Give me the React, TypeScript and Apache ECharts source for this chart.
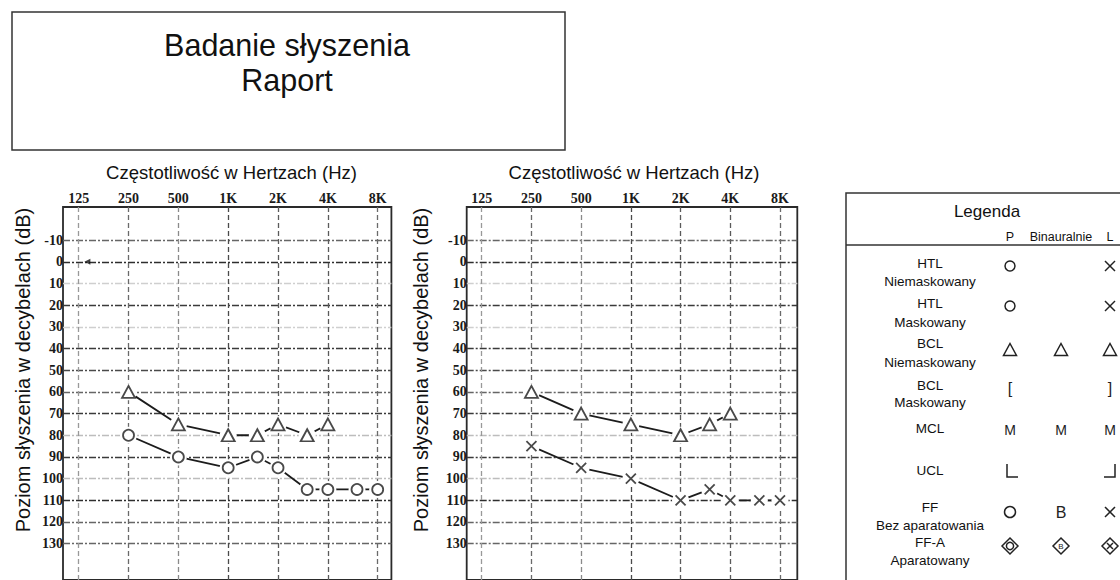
import React, { useEffect, useRef } from "react";
import * as echarts from "echarts";

// ---------- data ----------
const freqTicksHz = [125, 250, 500, 1000, 2000, 4000, 8000];
const freqTickLabels = ["125", "250", "500", "1K", "2K", "4K", "8K"];
const dbTicks = [-10, 0, 10, 20, 30, 40, 50, 60, 70, 80, 90, 100, 110, 120, 130];

// right ear (P) – left audiogram
const rightBoneHz = [250, 500, 1000, 1500, 2000, 3000, 4000];
const rightBoneDb = [60, 75, 80, 80, 75, 80, 75];
const rightAirHz = [250, 500, 1000, 1500, 2000, 3000, 4000, 6000, 8000];
const rightAirDb = [80, 90, 95, 90, 95, 105, 105, 105, 105];
// left ear (L) – right audiogram
const leftBoneHz = [250, 500, 1000, 2000, 3000, 4000];
const leftBoneDb = [60, 70, 75, 80, 75, 70];
const leftAirHz = [250, 500, 1000, 2000, 3000, 4000, 6000, 8000];
const leftAirDb = [85, 95, 100, 110, 105, 110, 110, 110];
// small reference arrow on the left audiogram
const refMarkHz = [141];
const refMarkDb = [0];

// ---------- texts ----------
const titleLines = ["Badanie słyszenia", "Raport"];
const xAxisTitle = "Częstotliwość w Hertzach (Hz)";
const yAxisTitle = "Poziom słyszenia w decybelach (dB)";
const legendTitle = "Legenda";
const legendColumns = ["P", "Binauralnie", "L"];
const legendRowNames = ["HTL", "HTL", "BCL", "BCL", "MCL", "UCL", "FF", "FF-A"];
const legendRowSubs = ["Niemaskowany", "Maskowany", "Niemaskowany", "Maskowany", "", "", "Bez aparatowania", "Aparatowany"];
const legendSymP = ["circle", "circle", "triangle", "[", "M", "ucl", "bigcircle", "diamondO"];
const legendSymB = ["", "", "triangle", "", "M", "", "B", "diamondB"];
const legendSymL = ["x", "x", "triangle", "]", "M", "uclR", "x", "diamondX"];

// ---------- styles ----------
const INK = "#1c1c1c";
const SANS = "Liberation Sans, Arial, sans-serif";
const SERIF = "Liberation Serif, Times New Roman, serif";
const hLineColors = ["#666", "#2e2e2e", "#cfcfcf", "#3a3a3a", "#cfcfcf", "#3a3a3a", "#4a4a4a", "#666", "#3a3a3a", "#bdbdbd", "#3a3a3a", "#bdbdbd", "#2e2e2e", "#666", "#666"];
const vLineColors = ["#999", "#6a6a6a", "#8a8a8a", "#4a4a4a", "#5a5a5a", "#5a5a5a", "#6a6a6a"];

const oct = (hz: number) => Math.log2(hz / 125);
const pts = (hz: number[], db: number[]) => hz.map((h, i) => [oct(h), db[i]]);

function buildAxes(g: number, xmin: number, xmax: number) {
  const xTicks = freqTicksHz.map(oct);
  const xAxis = {
    type: "value",
    gridIndex: g,
    position: "top",
    min: xmin,
    max: xmax,
    axisLine: { show: false },
    axisTick: { show: false, customValues: xTicks },
    splitLine: {
      show: true,
      lineStyle: { color: vLineColors, width: 1.3, type: [5, 3] },
    },
    axisLabel: {
      customValues: xTicks,
      margin: 2,
      fontFamily: SERIF,
      fontSize: 14,
      fontWeight: "bold",
      color: "#1a1a1a",
      formatter: (v: number) => {
        const i = xTicks.findIndex((t) => Math.abs(t - v) < 1e-6);
        return i >= 0 ? freqTickLabels[i] : "";
      },
    },
  };
  const yAxis = {
    type: "value",
    gridIndex: g,
    inverse: true,
    min: -25.26,
    max: 146.76,
    axisLine: { show: false },
    axisTick: { show: false, customValues: dbTicks },
    splitLine: {
      show: true,
      lineStyle: { color: hLineColors, width: 1.4, type: [7, 2, 2, 2] },
    },
    axisLabel: {
      customValues: dbTicks,
      margin: 0,
      fontFamily: SERIF,
      fontSize: 14,
      fontWeight: "bold",
      color: "#1a1a1a",
      formatter: (v: number) => String(v),
    },
  };
  return { xAxis, yAxis };
}

const X_PATH = "path://M0,0L10,10M10,0L0,10";

function haloLine(g: number, data: number[][]) {
  return {
    type: "line",
    xAxisIndex: g,
    yAxisIndex: g,
    data,
    symbol: "circle",
    symbolSize: 17,
    itemStyle: { color: "#fff", borderWidth: 0 },
    lineStyle: { color: INK, width: 1.8 },
    z: 3,
    silent: true,
  };
}

function markers(g: number, data: number[][], symbol: string, size: any) {
  return {
    type: "scatter",
    xAxisIndex: g,
    yAxisIndex: g,
    data,
    symbol,
    symbolSize: size,
    itemStyle: { color: "#fff", borderColor: INK, borderWidth: 1.8 },
    z: 4,
    silent: true,
  };
}

function legendSymbol(key: string, cx: number, cy: number): any[] {
  const stroke = { stroke: "#222", lineWidth: 1.5, fill: "none" };
  switch (key) {
    case "circle":
      return [{ type: "circle", shape: { cx, cy, r: 5 }, style: stroke }];
    case "bigcircle":
      return [{ type: "circle", shape: { cx, cy, r: 5.5 }, style: stroke }];
    case "x":
      return [
        { type: "line", shape: { x1: cx - 5, y1: cy - 5, x2: cx + 5, y2: cy + 5 }, style: stroke },
        { type: "line", shape: { x1: cx + 5, y1: cy - 5, x2: cx - 5, y2: cy + 5 }, style: stroke },
      ];
    case "triangle":
      return [{ type: "polygon", shape: { points: [[cx, cy - 6.5], [cx + 6.5, cy + 5.5], [cx - 6.5, cy + 5.5]] }, style: stroke }];
    case "ucl":
      return [{ type: "polyline", shape: { points: [[cx - 3, cy - 7], [cx - 3, cy + 6], [cx + 8, cy + 6]] }, style: stroke }];
    case "uclR":
      return [{ type: "polyline", shape: { points: [[cx - 6, cy + 6], [cx + 5, cy + 6], [cx + 5, cy - 7]] }, style: stroke }];
    case "diamondO":
    case "diamondB":
    case "diamondX": {
      const d: any[] = [
        { type: "polygon", shape: { points: [[cx, cy - 8], [cx + 8, cy], [cx, cy + 8], [cx - 8, cy]] }, style: stroke },
      ];
      if (key === "diamondO") d.push({ type: "circle", shape: { cx, cy, r: 3.6 }, style: stroke });
      if (key === "diamondB")
        d.push({ type: "text", x: cx, y: cy, style: { text: "B", fontSize: 8, fontFamily: SANS, fill: "#222", align: "center", verticalAlign: "middle" } });
      if (key === "diamondX")
        d.push(
          { type: "line", shape: { x1: cx - 3, y1: cy - 3, x2: cx + 3, y2: cy + 3 }, style: stroke },
          { type: "line", shape: { x1: cx + 3, y1: cy - 3, x2: cx - 3, y2: cy + 3 }, style: stroke }
        );
      return d;
    }
    case "":
      return [];
    default:
      return [
        {
          type: "text",
          x: cx,
          y: cy,
          style: { text: key, fontSize: key === "M" ? 14 : 16, fontFamily: SANS, fill: "#222", align: "center", verticalAlign: "middle" },
        },
      ];
  }
}

function buildGraphic() {
  const els: any[] = [];
  // title box
  els.push({ type: "rect", shape: { x: 12, y: 12, width: 553, height: 138 }, style: { fill: "none", stroke: "#333", lineWidth: 1.5 } });
  els.push({ type: "text", x: 287, y: 45, style: { text: titleLines[0], fontSize: 30.5, fontFamily: SANS, fill: "#111", align: "center", verticalAlign: "middle" } });
  els.push({ type: "text", x: 287, y: 80, style: { text: titleLines[1], fontSize: 30.5, fontFamily: SANS, fill: "#111", align: "center", verticalAlign: "middle" } });
  // chart titles
  [231.5, 634].forEach((x) =>
    els.push({ type: "text", x, y: 172, style: { text: xAxisTitle, fontSize: 18.5, fontFamily: SANS, fill: "#111", align: "center", verticalAlign: "middle" } })
  );
  [22.5, 420.5].forEach((x) =>
    els.push({
      type: "text",
      x,
      y: 370,
      rotation: Math.PI / 2,
      style: { text: yAxisTitle, fontSize: 20, fontFamily: SANS, fill: "#111", align: "center", verticalAlign: "middle" },
    })
  );
  // legend
  els.push({ type: "rect", shape: { x: 846, y: 193, width: 300, height: 420 }, style: { fill: "none", stroke: "#333", lineWidth: 1.5 } });
  els.push({ type: "line", shape: { x1: 846, y1: 245, x2: 1120, y2: 245 }, style: { stroke: "#333", lineWidth: 1.5 } });
  els.push({ type: "text", x: 987, y: 211, style: { text: legendTitle, fontSize: 17, fontFamily: SANS, fill: "#111", align: "center", verticalAlign: "middle" } });
  const colX = [1010, 1061, 1110];
  colX.forEach((x, i) =>
    els.push({ type: "text", x, y: 237, style: { text: legendColumns[i], fontSize: 12.5, fontFamily: SANS, fill: "#111", align: "center", verticalAlign: "middle" } })
  );
  const nameY = [263, 303, 343, 385, 428, 470, 507, 542];
  const subY = [281, 322, 362, 402, 0, 0, 525, 560];
  const symY = [266, 306, 350, 388, 430, 471, 512, 546];
  legendRowNames.forEach((n, i) => {
    els.push({ type: "text", x: 930, y: nameY[i], style: { text: n, fontSize: 13.5, fontFamily: SANS, fill: "#111", align: "center", verticalAlign: "middle" } });
    if (legendRowSubs[i])
      els.push({ type: "text", x: 930, y: subY[i], style: { text: legendRowSubs[i], fontSize: 13.5, fontFamily: SANS, fill: "#111", align: "center", verticalAlign: "middle" } });
    els.push(...legendSymbol(legendSymP[i], colX[0], symY[i]));
    els.push(...legendSymbol(legendSymB[i], colX[1], symY[i]));
    els.push(...legendSymbol(legendSymL[i], colX[2], symY[i]));
  });
  return els;
}

function buildOption() {
  const a0 = buildAxes(0, -0.315, 6.275);
  const a1 = buildAxes(1, -0.302, 6.348);
  const rb = pts(rightBoneHz, rightBoneDb);
  const ra = pts(rightAirHz, rightAirDb);
  const lb = pts(leftBoneHz, leftBoneDb);
  const la = pts(leftAirHz, leftAirDb);
  return {
    animation: false,
    backgroundColor: "#fff",
    grid: [
      { left: 63, top: 207, width: 328.4, height: 380, show: true, borderColor: "#2a2a2a", borderWidth: 1.8, backgroundColor: "transparent" },
      { left: 466.7, top: 207, width: 330.6, height: 380, show: true, borderColor: "#2a2a2a", borderWidth: 1.8, backgroundColor: "transparent" },
    ],
    xAxis: [a0.xAxis, a1.xAxis],
    yAxis: [a0.yAxis, a1.yAxis],
    graphic: { elements: buildGraphic() },
    series: [
      haloLine(0, rb),
      haloLine(0, ra),
      markers(0, rb, "triangle", [13, 12]),
      markers(0, ra, "circle", 11),
      {
        type: "scatter",
        xAxisIndex: 0,
        yAxisIndex: 0,
        data: pts(refMarkHz, refMarkDb),
        symbol: "triangle",
        symbolRotate: 90,
        symbolSize: [6, 6],
        itemStyle: { color: "#111" },
        z: 4,
        silent: true,
      },
      haloLine(1, lb),
      haloLine(1, la),
      markers(1, lb, "triangle", [13, 12]),
      markers(1, la, X_PATH, 10),
    ],
  };
}

export default function App() {
  const ref = useRef<HTMLDivElement>(null);
  useEffect(() => {
    if (!ref.current) return;
    const chart = echarts.init(ref.current, undefined, { renderer: "svg" });
    chart.setOption(buildOption() as any);
    return () => chart.dispose();
  }, []);
  return (
    <div
      ref={ref}
      style={{ position: "fixed", left: 0, top: 0, width: 1120, height: 580, background: "#fff" }}
    />
  );
}
